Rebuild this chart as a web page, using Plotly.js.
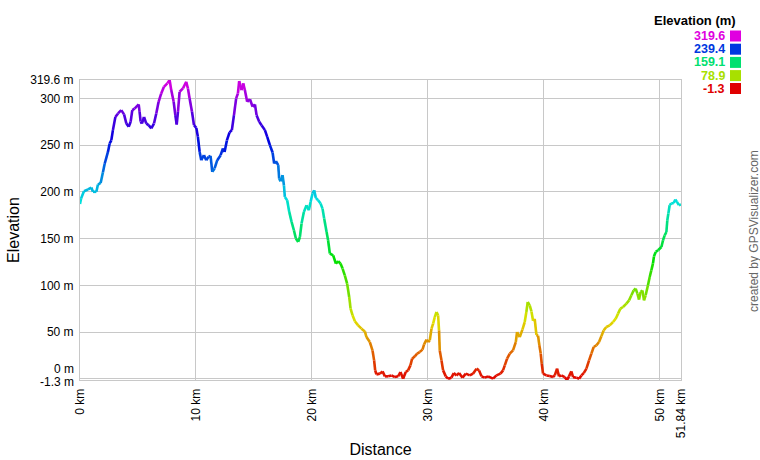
<!DOCTYPE html>
<html>
<head>
<meta charset="utf-8">
<script src="https://cdn.plot.ly/plotly-3.0.1.min.js"></script>
<style>html,body{margin:0;padding:0;background:#fff;}#chart{width:760px;height:460px;}</style>
</head>
<body>
<div id="chart"></div>
<script>
// Distance along the track (km)
const distKm = [
0, 0.1, 0.34, 0.69, 0.98, 1.12, 1.41, 1.55, 1.78, 1.98, 2.13, 2.41, 2.56, 2.7, 2.84, 3.05, 3.28, 3.56, 3.8, 4.0,
4.2, 4.37, 4.51, 4.71, 5.06, 5.14, 5.23, 5.34, 5.52, 5.72, 5.92, 6.15, 6.38, 6.58, 6.78, 7.0, 7.24, 7.53, 7.73, 7.87,
8.08, 8.22, 8.34, 8.45, 8.59, 8.88, 9.16, 9.31, 9.45, 9.66, 9.83, 10.03, 10.17, 10.32, 10.46, 10.69, 10.89, 11.09, 11.26, 11.41,
11.61, 11.84, 12.13, 12.33, 12.47, 12.67, 12.9, 13.1, 13.28, 13.47, 13.62,
13.73, 13.94, 14.08, 14.22, 14.42, 14.66, 14.89, 15.09, 15.23, 15.46, 15.66, 15.95, 16.15, 16.38, 16.61, 16.75, 16.9, 17.1, 17.18, 17.3,
17.47, 17.59, 17.67, 17.87, 18.05, 18.25, 18.45, 18.62, 18.82, 18.97, 19.11, 19.31, 19.54, 19.74, 19.89, 20.06, 20.2, 20.34, 20.54, 20.75,
20.92, 21.06, 21.27, 21.4, 21.55, 21.84, 22.07, 22.27, 22.47, 22.65, 22.84, 23.04, 23.22, 23.34, 23.51, 23.71, 23.99, 24.28, 24.57, 24.71,
25.0, 25.23, 25.37, 25.46, 25.57,
25.86, 26.1, 26.3, 26.58, 26.87, 27.16, 27.44, 27.64, 27.87, 28.1, 28.3, 28.5, 28.65, 28.88, 29.08, 29.3, 29.54, 29.68, 29.89, 30.03,
30.17, 30.32, 30.46, 30.6, 30.75, 30.89, 30.97, 31.03, 31.18, 31.32, 31.55, 31.75, 32.04, 32.24, 32.47, 32.7, 32.99, 33.28, 33.62, 33.9,
34.2, 34.42, 34.63, 34.91, 35.2, 35.63, 35.92, 36.27, 36.49, 36.64, 36.84, 37.07, 37.35, 37.59, 37.7, 37.93, 38.16, 38.36, 38.5, 38.62,
38.79, 38.94, 39.08, 39.22, 39.37, 39.51, 39.62, 39.74, 39.83, 39.94,
40.23, 40.52, 40.8, 40.95, 41.15, 41.32, 41.52, 41.81, 42.01, 42.18, 42.38, 42.53, 42.82, 43.05, 43.25, 43.45, 43.68, 43.91, 44.11, 44.31,
44.54, 44.77, 44.97, 45.17, 45.4, 45.69, 45.98, 46.21, 46.41, 46.61, 46.84, 47.13, 47.36, 47.56, 47.76, 47.93, 48.08, 48.22, 48.36, 48.51,
48.65, 48.79, 48.99, 49.14, 49.28, 49.42, 49.51, 49.66, 49.86, 50.15, 50.29, 50.43, 50.58, 50.66, 50.75, 50.86, 51.0, 51.21, 51.35, 51.49,
51.66, 51.84
];
// Elevation (m)
const elevM = [
187, 193, 200.6, 202.5, 204.6, 200, 200, 207.8, 209.5, 221, 230, 242.7, 251.7, 255, 266, 280, 283.8, 287.4, 282.8, 273,
269.5, 275, 287.4, 289, 293.5, 285.6, 275, 273, 280, 273, 271.3, 267.8, 273, 283.8, 296.3, 305, 312.3, 316, 319.6, 308.8,
296.3, 282, 272, 285.6, 307, 310.6, 317.7, 310.6, 300, 285.6, 271.3, 268.4, 258.8, 242.7, 233.8, 239.2, 233.8, 237.4, 238.4, 221.3,
225, 233.8, 239.2, 246.4, 242.7, 255, 263.5, 266, 282, 300, 305,
318.5, 308.8, 316, 308.8, 296.3, 299, 291, 293.5, 282, 275, 271.3, 266, 258.8, 250, 242, 230.3, 232.8, 228.5, 214, 211.3,
217.8, 207, 194.5, 191, 178.5, 167.8, 158.9, 150, 146.4, 151.7, 166, 178.5, 185.7, 180.3, 189.2, 198.2, 201.7, 193.5, 191, 187.5,
182, 171.4, 157, 148.2, 134, 132.1, 123.2, 125.7, 123.2, 117.9, 110.7, 101.8, 87.5, 75, 67.9, 61.5, 57.2, 53.6, 50.7, 44.6,
39.3, 30.4, 19.7, 9, 4.7,
5.5, 7.9, 2.6, 2.6, 3.6, 1.8, 2.6, 7.2, 0.1, 7.2, 9, 14.3, 21.5, 24, 26.9, 28.6, 31.2, 36.8, 41.9, 39.3,
41.1, 53.6, 59, 66, 71.4, 67.9, 51.8, 30.4, 19.7, 9, 2.6, 0.1, 1.2, 6.1, 3.6, 6.1, 1.2, 5.5, 3.6, 5.5,
10.8, 9, 2.6, 1.2, 2.6, 0.1, 3.6, 5.5, 9, 14.3, 21.5, 26.9, 30.4, 39.3, 50, 44.6, 52.6, 60.7, 71.4, 82.1,
78.6, 72, 62, 64, 47, 46, 36, 27, 16, 5.5,
3.6, 3.0, 1.8, 3.6, 10.8, 2.6, 3.6, 1.8, -1.3, 2.6, 7.9, 1.8, 1.2, 0.1, 3.6, 6.1, 10.8, 19.7, 26.9, 34,
35.8, 39.3, 45.4, 51.8, 55.4, 57.2, 60.7, 64.3, 69.7, 75, 76.8, 80.4, 83.9, 89.3, 94.6, 96.5, 91.1, 84.7, 92.8, 94.6,
83.9, 89.3, 100, 108.9, 116, 123.2, 131, 135.7, 137.5, 141, 148.2, 153.5, 157, 169.6, 176.8, 185.7, 187.5, 188.1, 191.8, 189.2,
185.7, 186.5
];
// Axis ticks
const xTickVals = [0, 10, 20, 30, 40, 50, 51.84];
const xTickText = ['0 km', '10 km', '20 km', '30 km', '40 km', '50 km', '51.84 km'];
const yTickVals = [-1.3, 0, 50, 100, 150, 200, 250, 300, 319.6];
const yTickText = ['', '', '50 m', '100 m', '150 m', '200 m', '250 m', '300 m', '319.6 m'];
// Colour legend values
const legendVals = [319.6, 239.4, 159.1, 78.9, -1.3];

const FONT = 'Arial, "Liberation Sans", sans-serif';
const eMin = Math.min(...elevM), eMax = Math.max(...elevM);
const xMax = distKm[distKm.length - 1];

function hueColor(e) {
  const t = Math.max(0, Math.min(1, (e - eMin) / (eMax - eMin)));
  const h = 300 * t, v = 224;
  const hp = h / 60, xx = v * (1 - Math.abs(hp % 2 - 1));
  let r = 0, g = 0, b = 0;
  if (hp < 1) { r = v; g = xx; }
  else if (hp < 2) { r = xx; g = v; }
  else if (hp < 3) { g = v; b = xx; }
  else if (hp < 4) { g = xx; b = v; }
  else if (hp < 5) { r = xx; b = v; }
  else { r = v; b = xx; }
  return 'rgb(' + Math.round(r) + ',' + Math.round(g) + ',' + Math.round(b) + ')';
}

const traces = [];
for (let i = 0; i < distKm.length - 1; i++) {
  traces.push({
    type: 'scatter', mode: 'lines',
    x: [distKm[i], distKm[i + 1]],
    y: [elevM[i], elevM[i + 1]],
    line: {color: hueColor((elevM[i] + elevM[i + 1]) / 2), width: 2.6},
    hoverinfo: 'skip', showlegend: false
  });
}

// pixel -> paper helpers (plot area 80..681 x, 80..380 y)
const PL = 80, PW = 601, PT = 80, PH = 300;
const px = x => (x - PL) / PW;
const py = y => (PT + PH - y) / PH;

const annotations = [
  {xref: 'paper', yref: 'paper', x: px(738), y: py(21), xanchor: 'right', yanchor: 'middle',
   text: '<b>Elevation (m)</b>', showarrow: false, font: {family: FONT, size: 13, color: '#000'}},
  {xref: 'paper', yref: 'y', x: 0, y: 0, xanchor: 'right', yanchor: 'middle', xshift: -5, yshift: 10, borderpad: 0,
   text: '0 m', showarrow: false, font: {family: FONT, size: 12, color: '#000'}},
  {xref: 'paper', yref: 'y', x: 0, y: -1.3, xanchor: 'right', yanchor: 'middle', xshift: -5, yshift: -2, borderpad: 0,
   text: '-1.3 m', showarrow: false, font: {family: FONT, size: 12, color: '#000'}},
  {xref: 'paper', yref: 'paper', x: px(754), y: py(231), xanchor: 'center', yanchor: 'middle',
   text: 'created by GPSVisualizer.com', textangle: -90, showarrow: false,
   font: {family: FONT, size: 12, color: '#666'}}
];
const shapes = [];
const legendY = [36, 49.2, 62.4, 75.6, 88.5];
legendVals.forEach((v, i) => {
  const c = hueColor(v);
  annotations.push({xref: 'paper', yref: 'paper', x: px(725.5), y: py(legendY[i]), xanchor: 'right', yanchor: 'middle',
    text: '<b>' + v.toFixed(1) + '</b>', showarrow: false, borderpad: 0,
    font: {family: FONT, size: 12.5, color: c}});
  shapes.push({type: 'rect', xref: 'paper', yref: 'paper', x0: px(730), x1: px(741),
    y0: py(legendY[i] + 5.5), y1: py(legendY[i] - 5.5), fillcolor: c, line: {width: 0}});
});

const layout = {
  width: 760, height: 460,
  margin: {l: 80, r: 79, t: 80, b: 80},
  paper_bgcolor: '#fff', plot_bgcolor: '#fff',
  font: {family: FONT, size: 12, color: '#000'},
  xaxis: {
    range: [0, xMax], tickvals: xTickVals, ticktext: xTickText, tickangle: -90,
    showgrid: true, gridcolor: '#c8c8c8', gridwidth: 1, zeroline: false,
    showline: true, mirror: true, linecolor: '#c8c8c8', linewidth: 1,
    ticks: 'outside', ticklen: 3, tickcolor: 'rgba(0,0,0,0)',
    tickfont: {family: FONT, size: 12, color: '#000'},
    title: {text: 'Distance', font: {family: FONT, size: 16, color: '#000'}, standoff: 6},
    fixedrange: true
  },
  yaxis: {
    range: [-1.3, 319.6], tickvals: yTickVals, ticktext: yTickText,
    showgrid: true, gridcolor: '#c8c8c8', gridwidth: 1, zeroline: false,
    showline: true, mirror: true, linecolor: '#c8c8c8', linewidth: 1,
    ticks: 'outside', ticklen: 3, tickcolor: 'rgba(0,0,0,0)',
    tickfont: {family: FONT, size: 12, color: '#000'},
    title: {text: 'Elevation', font: {family: FONT, size: 16, color: '#000'}, standoff: 6},
    fixedrange: true
  },
  annotations: annotations,
  shapes: shapes,
  showlegend: false
};

Plotly.newPlot('chart', traces, layout, {displayModeBar: false, staticPlot: true});
</script>
</body>
</html>
